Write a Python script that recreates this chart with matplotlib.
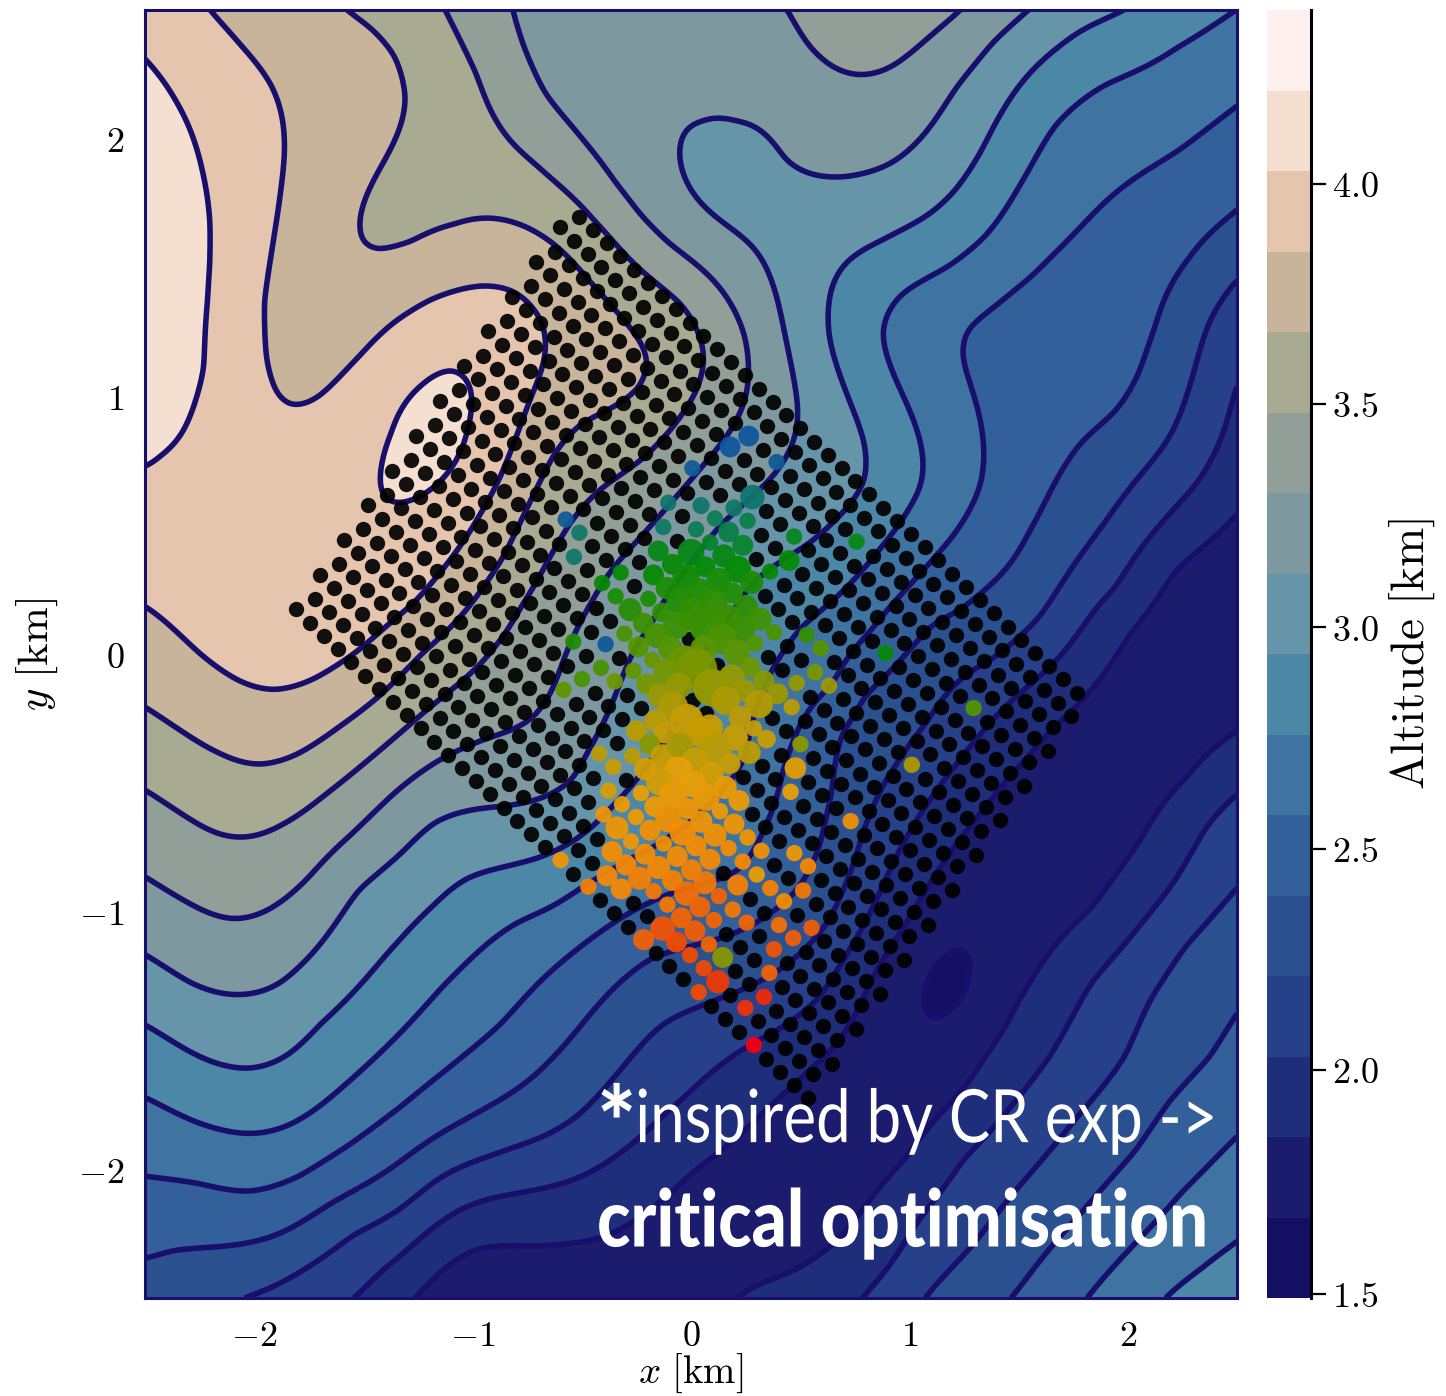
from matplotlib import pyplot as plt
from matplotlib.colors import LinearSegmentedColormap
from matplotlib.patheffects import AbstractPathEffect
from matplotlib.transforms import Affine2D
import numpy as np

plt.rcParams.update({
    "mathtext.fontset": 'cm',
    "font.family": 'DejaVu Serif',
    "axes.linewidth": 2.2,
})

W, H = 1446, 1396

# band colours of the altitude scale, bottom to top
band_colors = ['#140f63', '#1c1c6e', '#1e2e7a', '#27408a', '#2b5090', '#33609a', '#3f74a2', '#4d87a7',
               '#6694a8', '#7d999f', '#929e98', '#a9aa92', '#c7b49a', '#e6c5af', '#f4dfd0', '#fdf0ee']
levels = [1.49, 1.67, 1.85, 2.03, 2.21, 2.39, 2.58, 2.76, 2.94, 3.12, 3.30, 3.48, 3.66, 3.84, 4.03, 4.21, 4.39]
cbar_ticks = [1.5, 2.0, 2.5, 3.0, 3.5, 4.0]
x_ticks = [-2, -1, 0, 1, 2]
y_ticks = [-2, -1, 0, 1, 2]
line_color = '#170f6b'

# contour lines, km
l14a_x = [-2.49, -2.41, -2.31, -2.24, -2.20, -2.20, -2.21, -2.22, -2.32, -2.43, -2.50]
l14a_y = [2.31, 2.22, 2.07, 1.88, 1.68, 1.51, 1.37, 1.11, .87, .78, .72]
l14b_x = [-1.10, -1.00, -1.03, -1.19, -1.36, -1.42, -1.36, -1.23]
l14b_y = [1.11, 1.02, .86, .64, .59, .71, .86, 1.04]
l13_x = [-2.21, -2.06, -1.92, -1.87, -1.86, -1.89, -1.93, -1.96, -1.95, -1.90, -1.84, -1.70, -1.51, -1.36, -1.19, -.97,
         -.81, -.68, -.67, -.74, -.78, -.87, -.97, -1.10, -1.27, -1.51, -1.73, -1.91, -2.08, -2.25, -2.50]
l13_y = [2.50, 2.36, 2.21, 2.07, 1.94, 1.72, 1.51, 1.37, 1.15, 1.01, .96, 1.00, 1.16, 1.29, 1.38, 1.43,
         1.41, 1.29, 1.20, .99, .89, .69, .54, .37, .19, .02, -.10, -.14, -.10, 0, .19]
l12_x = [-1.59, -1.46, -1.35, -1.30, -1.35, -1.44, -1.51, -1.51, -1.43, -1.28, -1.08, -.89, -.76, -.61, -.46, -.37, -.26,
         -.19, -.23, -.37, -.52, -.63, -.74, -.86, -1.01, -1.23, -1.42, -1.61, -1.80, -1.97, -2.14, -2.33, -2.49]
l12_y = [2.50, 2.43, 2.33, 2.16, 2.01, 1.86, 1.72, 1.60, 1.56, 1.59, 1.66, 1.69, 1.66, 1.58, 1.44, 1.36, 1.24,
         1.13, 1.03, .95, .89, .78, .59, .37, .19, .01, -.16, -.28, -.39, -.43, -.39, -.30, -.21]
l11_x = [-1.13, -.98, -.89, -.72, -.51, -.37, -.23, -.04, .03, .06, .04, -.04, -.14, -.23, -.43, -.57, -.66, -.78, -.91,
         -1.03, -1.23, -1.46, -1.67, -1.87, -2.03, -2.16, -2.33, -2.49]
l11_y = [2.50, 2.26, 2.07, 1.91, 1.75, 1.62, 1.49, 1.36, 1.25, 1.18, 1.06, .94, .83, .75, .63, .49, .36, .19, .02,
         -.09, -.23, -.40, -.54, -.66, -.71, -.70, -.62, -.53]
l10a_x = [-2.49, -2.29, -2.10, -1.93, -1.76, -1.55, -1.36, -1.15, -.95, -.72, -.63, -.57, -.46, -.36, -.23, -.16, .07,
          .18, .26, .25, .18, .04, -.10, -.23, -.35, -.49, -.67, -.77, -.82]
l10a_y = [-.87, -.97, -1.03, -.99, -.88, -.70, -.54, -.41, -.33, -.25, -.14, .01, .19, .33, .45, .52, .75,
          .87, 1.04, 1.23, 1.36, 1.50, 1.59, 1.70, 1.83, 1.99, 2.17, 2.36, 2.50]
l10b_x = [.45, .54, .65, .79, .94, 1.11, 1.25]
l10b_y = [2.50, 2.36, 2.28, 2.25, 2.29, 2.41, 2.50]
l9_x = [-2.49, -2.29, -2.06, -1.88, -1.71, -1.53, -1.33, -1.18, -1.03, -.84, -.69, -.54, -.48, -.38, -.27, -.17, -.14,
        .13, .35, .44, .49, .49, .43, .35, .20, .01, -.05, .06, .20, .42, .69, .91, 1.08, 1.21, 1.38, 1.55]
l9_y = [-1.17, -1.28, -1.32, -1.28, -1.14, -.91, -.78, -.65, -.61, -.59, -.56, -.50, -.38, -.23, .01, .12, .19,
        .50, .67, .78, .91, .97, 1.23, 1.49, 1.64, 1.79, 1.94, 2.05, 2.02, 1.91, 1.85, 1.90, 2.03, 2.20, 2.38, 2.50]
l8_x = [-2.49, -2.26, -2.03, -1.85, -1.70, -1.51, -1.33, -1.18, -1.03, -.87, -.69, -.54, -.38, -.23, .03, .19, .28, .38,
        .53, .80, .79, .70, .63, .64, .70, .87, 1.08, 1.21, 1.33, 1.45, 1.59, 1.78, 2.00]
l8_y = [-1.44, -1.56, -1.61, -1.56, -1.43, -1.28, -1.11, -.98, -.87, -.83, -.79, -.73, -.60, -.46, -.02, .15, .28, .34,
        .42, .66, .84, 1.04, 1.23, 1.41, 1.51, 1.60, 1.70, 1.80, 1.95, 2.14, 2.29, 2.42, 2.50]
l7a_x = [-2.49, -2.26, -2.00, -1.82, -1.61, -1.33, -1.14, -.98, -.80, -.63, -.48, -.16, .07, .26, .35, .39, .50, .68, .88,
         .99, 1.06, 1.03, .94, .87, .96, 1.18, 1.35, 1.49, 1.66, 1.89, 2.23, 2.49]
l7a_y = [-1.72, -1.82, -1.86, -1.82, -1.69, -1.47, -1.29, -1.16, -1.04, -.98, -.89, -.75, -.59, -.42, -.10, -.03, .11, .23, .43,
         .56, .66, .88, 1.06, 1.25, 1.40, 1.50, 1.62, 1.80, 2.05, 2.21, 2.36, 2.50]
l7b_x = [2.18, 2.34, 2.50]
l7b_y = [-2.49, -2.39, -2.29]
l6a_x = [-2.49, -2.26, -2.02, -1.79, -1.57, -1.33, -1.10, -.87, -.69, -.38, -.27, -.08, .22, .33, .41, .49, .68, .83, .99,
         1.14, 1.26, 1.33, 1.33, 1.28, 1.24, 1.26, 1.47, 1.64, 1.89, 2.23, 2.49]
l6a_y = [-2.03, -2.05, -2.09, -2.03, -1.91, -1.76, -1.60, -1.44, -1.27, -1.06, -1.00, -.92, -.85, -.67, -.45, -.29, -.13, .09, .25,
         .40, .54, .66, .87, 1.05, 1.18, 1.27, 1.41, 1.54, 1.75, 1.95, 2.12]
l6b_x = [1.82, 2.02, 2.24, 2.50]
l6b_y = [-2.49, -2.30, -2.09, -1.87]
l5a_x = [-2.49, -2.37, -2.06, -1.88, -1.67, -1.33, -1.06, -.80, -.65, -.54, -.37, -.19, .07, .25, .38, .50, .59, .65, .68,
         .77, .96, 1.09, 1.22, 1.34, 1.48, 1.55, 1.66, 1.78, 1.95, 2.05, 2.13, 2.28, 2.49]
l5a_y = [-2.35, -2.31, -2.29, -2.25, -2.14, -1.97, -1.82, -1.69, -1.58, -1.48, -1.31, -1.18, -1.12, -1.06, -.99, -.90, -.76, -.55, -.30,
         -.15, -.02, .12, .16, .25, .37, .48, .66, .82, .94, 1.08, 1.27, 1.53, 1.71]
l5b_x = [1.48, 1.78, 2.04, 2.18, 2.38, 2.49]
l5b_y = [-2.49, -2.18, -1.93, -1.74, -1.57, -1.41]
l4a_x = [-2.05, -1.76, -1.55, -1.33, -1.15, -.92, -.69, -.54, -.36, -.14, .04, .22, .50, .62, .71, .79, .96, 1.08, 1.24,
         1.41, 1.60, 1.77, 1.89, 2.05, 2.21, 2.30, 2.37, 2.49]
l4a_y = [-2.50, -2.38, -2.25, -2.16, -2.03, -1.95, -1.88, -1.81, -1.65, -1.44, -1.37, -1.31, -1.16, -1.06, -.89, -.67, -.42, -.28, -.09,
         -.01, .14, .37, .50, .69, .87, 1.08, 1.29, 1.45]
l4b_x = [1.07, 1.29, 1.58, 1.78, 1.99, 2.10, 2.26, 2.49]
l4b_y = [-2.49, -2.30, -1.99, -1.78, -1.57, -1.34, -1.13, -.92]
l3a_x = [-1.53, -1.33, -1.10, -.95, -.72, -.57, -.38, -.22, -.02, .26, .42, .59, .70, .87, .99, 1.14, 1.32, 1.49, 1.68,
         1.87, 1.95, 2.13, 2.32, 2.43, 2.49]
l3a_y = [-2.50, -2.34, -2.18, -2.12, -2.08, -2.05, -1.97, -1.87, -1.72, -1.52, -1.45, -1.34, -1.18, -.91, -.71, -.51, -.32, -.16, -.02,
         .20, .25, .48, .66, .84, 1.04]
l3b_x = [.79, .91, 1.05, 1.24, 1.45, 1.64, 1.83, 2.02, 2.21, 2.36, 2.49]
l3b_y = [-2.49, -2.38, -2.18, -1.96, -1.77, -1.57, -1.27, -1.09, -.89, -.66, -.54]
l2a_x = [-1.27, -1.13, -1.00, -.72, -.49, -.38, -.11, .01, .38, .54, .70, .83, .99, 1.21, 1.44, 1.66, 1.81, 2.01, 2.21, 2.49]
l2a_y = [-2.50, -2.38, -2.31, -2.30, -2.28, -2.26, -2.10, -2.00, -1.74, -1.61, -1.47, -1.25, -1.05, -.74, -.49, -.28, -.16, .09, .33, .54]
l2b_x = [.19, .51, .69, .99, 1.24, 1.35, 1.49, 1.63, 1.84, 2.05, 2.28, 2.49]
l2b_y = [-2.49, -2.38, -2.27, -1.96, -1.70, -1.55, -1.35, -1.17, -.99, -.74, -.48, -.31]
l1_x = [1.07, 1.22, 1.28, 1.13]
l1_y = [-1.35, -1.14, -1.20, -1.42]

# altitude spot values away from the lines
spot_x = [-2.50, -2.40, -1.20, .80, .20, 2.50, -2.50, 1.17, 1.80, -.10, 2.50]
spot_y = [2.50, 1.50, .85, 2.45, 1.95, -2.50, -2.50, -1.28, -.60, -2.40, 2.50]
spot_z = [3.95, 4.12, 4.12, 3.38, 3.00, 2.90, 2.30, 1.63, 1.76, 1.76, 2.76]

traced = [
    (4.03, l14a_x, l14a_y), (4.03, l14b_x, l14b_y), (3.84, l13_x, l13_y), (3.66, l12_x, l12_y), (3.48, l11_x, l11_y),
    (3.30, l10a_x, l10a_y), (3.30, l10b_x, l10b_y), (3.12, l9_x, l9_y), (2.94, l8_x, l8_y), (2.76, l7a_x, l7a_y),
    (2.76, l7b_x, l7b_y), (2.58, l6a_x, l6a_y), (2.58, l6b_x, l6b_y), (2.39, l5a_x, l5a_y), (2.39, l5b_x, l5b_y),
    (2.21, l4a_x, l4a_y), (2.21, l4b_x, l4b_y), (2.03, l3a_x, l3a_y), (2.03, l3b_x, l3b_y), (1.85, l2a_x, l2a_y),
    (1.85, l2b_x, l2b_y), (1.67, l1_x, l1_y),
]

# detector rows: first dot of every row, km
row_x = [-.513, -.600, -.622, -.709, -.732, -.819, -.842, -.929, -.952, -1.039, -1.062, -1.149,
         -1.172, -1.259, -1.281, -1.368, -1.391, -1.478, -1.501, -1.588, -1.611, -1.698, -1.721, -1.808]
row_y = [1.697, 1.656, 1.562, 1.521, 1.428, 1.386, 1.293, 1.252, 1.158, 1.117, 1.023, .982,
         .889, .847, .754, .712, .619, .577, .484, .443, .350, .308, .215, .173]
row_n = [37, 38] * 12
row_step = (0.0633, -0.0513)

# triggered detectors: position, marker area, arrival order
hit_x = [.264, .179, .392, .006, -.574, -.391, .281, -.104, .046, .197, .110, .259, -.127, .023, -.511, -.536, .172, .087, .237, .472,
         .758, -.150, 0, .150, .449, -.085, .064, .214, .362, -.322, -.172, -.407, -.023, .127, .278, -.111, .038, .189, -.345, -.195,
         -.050, .102, .253, -.279, -.134, .015, .166, .316, -.218, -.069, .079, .232, .380, .530, -.305, -.157, .140, .293, .594, -.539,
         -.241, -.093, .056, .209, -.177, -.029, .026, -.412, -.264, -.114, .272, .568, -.499, -.349, -.203, .095, .186, .484, .334, .632,
         -.584, -.055, .247, .397, -.142, .159, .311, .461, -.081, .224, -.162, -.020, .288, -.249, .087, -.119, .201, .041, .346,
         .501, -.188, -.127, .266, .110, -.050, .179, .018, -.058, .092, .478, -.420, -.356, -.269, -.209, -.145, .008, .156, -.378, -.229,
         .456, -.081, .069, .220, -.316, -.166, -.015, .133, -.401, -.252, -.104, .047, .731, .197, -.339, -.188, -.038, .110, .259, -.275,
         -.125, .023, .172, -.362, -.211, -.063, .322, .473, -.597, .087, .237, -.298, -.148, .536, .002, .301, -.385, -.235, -.085, .064,
         .214, .363, -.470, -.320, -.171, -.021, .513, .128, -.108, .041, .426, .191, -.044, .105, .255, .403, -.130, .018, .552, .468,
         -.217, -.067, .082, .380, -.005, .145, .058, .359, .122, .035, .334, .249, .288, .891, 1.294, 1.011]
hit_y = [.846, .804, .745, .721, .522, .038, .609, .587, .576, .567, .526, .517, .493, .484, .471, .377, .474, .433, .422, .456,
         .436, .400, .395, .381, .363, .348, .339, .329, .320, .316, .307, .275, .298, .287, .278, .256, .246, .237, .224, .214,
         .205, .194, .185, .172, .162, .153, .142, .136, .120, .110, .110, .097, .084, .074, .079, .071, .058, .041, .022, .048,
         .028, .019, .019, .006, -.023, -.032, -.058, -.054, -.065, -.071, -.052, -.071, -.097, -.106, -.117, -.130, -.091, -.113, -.104, -.123,
         -.139, -.123, -.142, -.154, -.162, -.181, -.194, -.206, -.207, -.246, -.259, -.259, -.289, -.298, -.285, -.304, -.324, -.304, -.330,
         -.350, -.350, -.401, -.382, -.369, -.356, -.425, -.414, -.453, -.466, -.443, -.386, -.438, -.396, -.447, -.496, -.505, -.518, -.531, -.540,
         -.535, -.548, -.557, -.569, -.583, -.592, -.600, -.610, -.623, -.633, -.641, -.651, -.649, -.660, -.675, -.684, -.693, -.703, -.712, -.727,
         -.736, -.745, -.754, -.767, -.777, -.786, -.764, -.773, -.800, -.797, -.806, -.819, -.829, -.824, -.838, -.856, -.861, -.870, -.879, -.888,
         -.897, -.909, -.903, -.912, -.921, -.930, -.918, -.940, -.973, -.982, -.960, -.992, -1.024, -1.033, -1.043, -1.052, -1.066, -1.075, -1.063, -1.103,
         -1.109, -1.118, -1.127, -1.146, -1.169, -1.178, -1.220, -1.238, -1.272, -1.313, -1.331, -1.374, -1.518, .004, -.210, -.430]
hit_s = [181, 181, 111, 111, 111, 111, 251, 111, 122, 122, 111, 111, 111, 111, 111, 111, 181, 111, 181, 111,
         111, 181, 299, 221, 181, 181, 181, 299, 111, 111, 181, 111, 299, 251, 221, 207, 251, 181, 111, 111,
         299, 333, 221, 221, 156, 467, 282, 221, 181, 299, 576, 299, 111, 111, 111, 251, 369, 111, 111, 111,
         181, 251, 282, 282, 111, 467, 697, 111, 111, 282, 168, 111, 111, 111, 181, 576, 282, 111, 181, 111,
         111, 282, 207, 181, 251, 333, 333, 111, 369, 207, 207, 467, 111, 181, 282, 207, 282, 369, 144,
         111, 181, 282, 221, 467, 282, 181, 282, 333, 251, 194, 111, 111, 111, 207, 299, 282, 221, 111, 111,
         111, 333, 299, 181, 111, 181, 181, 111, 111, 111, 282, 207, 111, 181, 221, 181, 282, 221, 111, 111,
         111, 181, 111, 181, 181, 181, 111, 111, 111, 181, 111, 181, 221, 111, 181, 111, 181, 221, 181, 221,
         181, 111, 111, 181, 111, 251, 111, 111, 111, 181, 111, 111, 181, 111, 111, 111, 251, 181, 111, 111,
         181, 181, 111, 111, 111, 181, 111, 111, 221, 111, 111, 111, 111, 111, 111, 111]
hit_t = [0, 0, .02, .02, .02, .02, .14, .14, .14, .16, .18, .2, .16, .18, .15, .15, .2, .24, .24, .26,
         .28, .27, .27, .28, .3, .3, .3, .3, .3, .3, .3, .3, .32, .33, .33, .33, .34, .34, .33, .33,
         .34, .36, .36, .35, .36, .37, .38, .39, .38, .38, .38, .38, .4, .37, .4, .4, .41, .42, .42, .34,
         .42, .42, .43, .43, .45, .45, .48, .4, .44, .47, .46, .48, .4, .46, .48, .52, .52, .52, .5, .53,
         .43, .52, .53, .53, .53, .56, .57, .58, .56, .58, .58, .6, .6, .58, .6, .6, .6, .6, .6,
         .5, .5, .6, .58, .58, .55, .6, .6, .65, .62, .64, .58, .6, .58, .62, .62, .65, .67, .62, .65,
         .65, .68, .68, .68, .68, .68, .7, .68, .7, .68, .72, .7, .73, .7, .7, .72, .74, .72, .7, .7,
         .72, .74, .74, .74, .74, .74, .72, .68, .7, .76, .76, .76, .76, .76, .78, .66, .76, .78, .78, .8,
         .78, .78, .78, .76, .8, .82, .8, .84, .8, .84, .74, .8, .84, .84, .84, .82, .88, .86, .86, .86,
         .85, .9, .84, .88, .9, .5, .9, .84, .94, .9, .96, .95, 1.0, .3, .42, .56]
hit_stops = [(0, '#10559e'), (.15, '#10786a'), (.3, '#058a05'), (.42, '#559500'), (.55, '#a89a00'), (.65, '#e8a005'),
             (.76, '#f58a05'), (.88, '#f05505'), (.95, '#f03505'), (1, '#f50010')]


class Squeeze(AbstractPathEffect):
    # condensed look for the caption, no condensed font is installed
    def __init__(self, x0, sx):
        super().__init__()
        self.x0, self.sx = x0, sx

    def draw_path(self, renderer, gc, tpath, affine, rgbFace=None):
        squeeze = Affine2D().translate(-self.x0, 0).scale(self.sx, 1).translate(self.x0, 0)
        renderer.draw_path(gc, tpath, affine + squeeze, rgbFace)


# surface through the traced lines, thin plate
px = np.concatenate([np.array(c[1], float) for c in traced] + [np.array(spot_x)])
py = np.concatenate([np.array(c[2], float) for c in traced] + [np.array(spot_y)])
pz = np.concatenate([np.full(len(c[1]), c[0]) for c in traced] + [np.array(spot_z)])


def tps(r2):
    return 0.5 * r2 * np.log(r2 + 1e-12)


n = len(px)
K = tps((px[:, None] - px[None, :])**2 + (py[:, None] - py[None, :])**2) + 2e-2 * np.eye(n)
P = np.column_stack([np.ones(n), px, py])
A = np.block([[K, P], [P.T, np.zeros((3, 3))]])
coef = np.linalg.solve(A, np.concatenate([pz, np.zeros(3)]))

gx = np.linspace(-2.5, 2.5, 400)
gy = np.linspace(-2.5, 2.5, 460)
GX, GY = np.meshgrid(gx, gy)
r2 = (GX.ravel()[:, None] - px[None, :])**2 + (GY.ravel()[:, None] - py[None, :])**2
Z = tps(r2) @ coef[:n] + coef[n] + coef[n + 1] * GX.ravel() + coef[n + 2] * GY.ravel()
Z = np.clip(Z.reshape(GX.shape), levels[0] + 0.001, levels[-1] - 0.001)

fig = plt.figure(figsize=(W / 100, H / 100), dpi=100)
ax = fig.add_axes([145 / W, 1 - 1298 / H, 1092 / W, 1288 / H])
cax = fig.add_axes([1267 / W, 1 - 1298 / H, 44 / W, 1288 / H])

cf = ax.contourf(GX, GY, Z, levels=levels, colors=band_colors)
ax.contour(GX, GY, Z, levels=levels[1:-1], colors=line_color, linewidths=4.0)

dot_x, dot_y = [], []
for x0, y0, m in zip(row_x, row_y, row_n):
    for j in range(m):
        dot_x.append(x0 + j * row_step[0])
        dot_y.append(y0 + j * row_step[1])
dot_x = np.array(dot_x)
dot_y = np.array(dot_y)
hx = np.array(hit_x)
hy = np.array(hit_y)
# a triggered detector takes the place of the black dot
d = np.hypot(dot_x[:, None] - hx[None, :], dot_y[:, None] - hy[None, :])
idle = d.min(axis=1) > 0.052
ax.scatter(dot_x[idle], dot_y[idle], s=122, c='black', alpha=0.92, linewidths=0, zorder=3)

hit_cmap = LinearSegmentedColormap.from_list('hits', hit_stops)
ax.scatter(hx, hy, s=np.array(hit_s) * 1.25, c=hit_t, cmap=hit_cmap, vmin=0, vmax=1, alpha=0.94, linewidths=0, zorder=4)

ax.set_xlim(-2.5, 2.5)
ax.set_ylim(-2.5, 2.5)
ax.set_xticks(x_ticks, [f"${v}$" for v in x_ticks])
ax.set_yticks(y_ticks, [f"${v}$" for v in y_ticks])
ax.tick_params(length=0, labelsize=26, pad=15)
for s in ax.spines.values():
    s.set_color(line_color)
ax.set_xlabel(r"$x\ [\mathrm{km}]$", fontsize=28, labelpad=-1)
ax.set_ylabel(r"$y\ [\mathrm{km}]$", fontsize=31, labelpad=13)

narrow = ['Lato', 'DejaVu Sans']
x_star = ax.transData.transform((-.43, 0))[0]
x_insp = ax.transData.transform((-.255, 0))[0]
ax.text(-.43, -1.96, "*", color='white', fontsize=72, fontweight='black', family=narrow, zorder=6,
        path_effects=[Squeeze(x_star, 0.92)])
ax.text(-.255, -1.895, "inspired by CR exp ->", color='white', fontsize=53, family=narrow, zorder=6,
        path_effects=[Squeeze(x_insp, 0.84)])
ax.text(-.43, -2.30, "critical optimisation", color='white', fontsize=57, fontweight='black', family=narrow, zorder=6,
        path_effects=[Squeeze(x_star, 0.87)])

cb = fig.colorbar(cf, cax=cax, drawedges=False)
cb.set_ticks(cbar_ticks, labels=[f"${v:.1f}$" for v in cbar_ticks])
cb.ax.tick_params(length=11, width=1.6, labelsize=26, pad=4)
cb.outline.set_visible(False)
cax.axvline(1, color='black', lw=2.2, clip_on=False)
cb.set_label(r"$\mathrm{Altitude}\ [\mathrm{km}]$", fontsize=34, labelpad=6)

fig.savefig("out.png", dpi=100)
